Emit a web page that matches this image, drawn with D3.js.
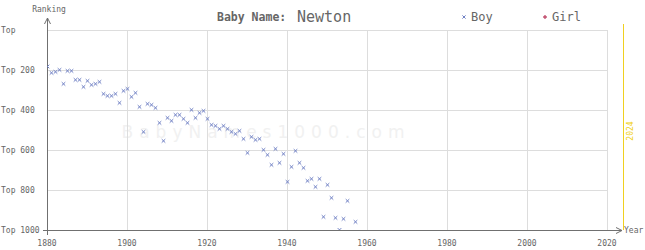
<!DOCTYPE html>
<html>
<head>
<meta charset="utf-8">
<script src="https://cdn.jsdelivr.net/npm/d3@7"></script>
<style>
  body { margin: 0; background: #fff; }
  text { font-family: "DejaVu Sans Mono", monospace; }
</style>
</head>
<body>
<div id="chart"></div>
<script>
// boy ranks (1956 missing)
let years = [1880, 1881, 1882, 1883, 1884, 1885, 1886, 1887, 1888, 1889,
    1890, 1891, 1892, 1893, 1894, 1895, 1896, 1897, 1898, 1899,
    1900, 1901, 1902, 1903, 1904, 1905, 1906, 1907, 1908, 1909,
    1910, 1911, 1912, 1913, 1914, 1915, 1916, 1917, 1918, 1919,
    1920, 1921, 1922, 1923, 1924, 1925, 1926, 1927, 1928, 1929,
    1930, 1931, 1932, 1933, 1934, 1935, 1936, 1937, 1938, 1939,
    1940, 1941, 1942, 1943, 1944, 1945, 1946, 1947, 1948, 1949,
    1950, 1951, 1952, 1953, 1954, 1955, 1957];

let boyRanks = [180, 212, 207, 197, 267, 202, 202, 247, 247, 282,
    252, 272, 267, 257, 317, 327, 327, 317, 362, 302,
    292, 332, 312, 382, 507, 367, 372, 387, 462, 552,
    437, 452, 422, 422, 442, 462, 397, 437, 412, 402,
    442, 472, 477, 492, 477, 492, 507, 517, 502, 542,
    612, 532, 547, 542, 597, 622, 672, 592, 662, 617,
    757, 682, 602, 662, 687, 752, 742, 782, 742, 932,
    772, 837, 937, 997, 942, 852, 957];

let xTicks = [1880, 1900, 1920, 1940, 1960, 1980, 2000, 2020];
let yTicks = [0, 200, 400, 600, 800, 1000];
let yTickLabels = ["Top", "Top 200", "Top 400", "Top 600", "Top 800", "Top 1000"];
let currentYear = 2024;

let W = 645, H = 250;
let margin = {top: 30, left: 47, right: 38, bottom: 20};

let svg = d3.select("#chart").append("svg")
    .attr("width", W)
    .attr("height", H);

let x = d3.scaleLinear().domain([1880, 2020]).range([margin.left, 607]);
let y = d3.scaleLinear().domain([0, 1000]).range([margin.top, 230]);

// watermark
svg.append("text")
    .attr("x", 266)
    .attr("y", 138)
    .attr("text-anchor", "middle")
    .attr("fill", "#f1f1f1")
    .style("font-size", "17px")
    .style("letter-spacing", "6px")
    .style("font-family", "DejaVu Sans, sans-serif")
    .text("BabyNames1000.com");

// grid
svg.append("g").selectAll("line")
    .data(yTicks.slice(0, -1))
    .enter().append("line")
    .attr("x1", margin.left).attr("x2", x(2020))
    .attr("y1", d => y(d) + 0.5).attr("y2", d => y(d) + 0.5)
    .attr("stroke", "#dddddd");

svg.append("g").selectAll("line")
    .data(xTicks.slice(1))
    .enter().append("line")
    .attr("x1", d => x(d) + 0.5).attr("x2", d => x(d) + 0.5)
    .attr("y1", margin.top).attr("y2", y(1000))
    .attr("stroke", "#dddddd");

// current year line
svg.append("line")
    .attr("x1", x(currentYear) + 0.5).attr("x2", x(currentYear) + 0.5)
    .attr("y1", 24).attr("y2", y(1000))
    .attr("stroke", "#f0d020");

svg.append("text")
    .attr("transform", "translate(" + (x(currentYear) + 10) + ",131) rotate(-90)")
    .attr("text-anchor", "middle")
    .attr("fill", "#f0d020")
    .style("font-size", "8px")
    .text(currentYear);

// axes
let axisColor = "#707070";
svg.append("line")
    .attr("x1", margin.left + 0.5).attr("x2", margin.left + 0.5)
    .attr("y1", 18).attr("y2", y(1000) + 5)
    .attr("stroke", axisColor);
svg.append("path")
    .attr("d", "M" + (margin.left - 2.5) + ",24 L" + (margin.left + 0.5) + ",18 L" + (margin.left + 3.5) + ",24")
    .attr("fill", "none")
    .attr("stroke", axisColor);

svg.append("line")
    .attr("x1", margin.left - 4).attr("x2", 622)
    .attr("y1", y(1000) + 0.5).attr("y2", y(1000) + 0.5)
    .attr("stroke", axisColor);
svg.append("path")
    .attr("d", "M616," + (y(1000) - 2.5) + " L622," + (y(1000) + 0.5) + " L616," + (y(1000) + 3.5))
    .attr("fill", "none")
    .attr("stroke", axisColor);

svg.append("text")
    .attr("x", 624).attr("y", y(1000) + 3)
    .attr("fill", "#666")
    .style("font-size", "8px")
    .text("Year");

svg.append("text")
    .attr("x", 49).attr("y", 12)
    .attr("text-anchor", "middle")
    .attr("fill", "#666")
    .style("font-size", "8px")
    .text("Ranking");

svg.append("g").selectAll("text")
    .data(yTicks)
    .enter().append("text")
    .attr("x", 1)
    .attr("y", d => y(d) + 3)
    .attr("fill", "#666")
    .style("font-size", "8px")
    .text((d, i) => yTickLabels[i]);

svg.append("g").selectAll("text")
    .data(xTicks)
    .enter().append("text")
    .attr("x", d => x(d))
    .attr("y", 246)
    .attr("text-anchor", "middle")
    .attr("fill", "#666")
    .style("font-size", "8px")
    .text(d => d);

// title + legend
svg.append("text")
    .attr("x", 217).attr("y", 21)
    .attr("fill", "#666")
    .style("font-size", "11.5px")
    .style("font-weight", "bold")
    .text("Baby Name:");
svg.append("text")
    .attr("x", 297).attr("y", 22)
    .attr("fill", "#666")
    .style("font-size", "15px")
    .text("Newton");

let boyColor = "#6f80c4", girlColor = "#c04a6a";
svg.append("path")
    .attr("transform", "translate(464,17)")
    .attr("d", d3.symbol(d3.symbolTimes, 8)())
    .attr("stroke", boyColor).attr("fill", "none");
svg.append("text")
    .attr("x", 471).attr("y", 21)
    .attr("fill", "#666")
    .style("font-size", "12px")
    .text("Boy");
svg.append("path")
    .attr("transform", "translate(545,17)")
    .attr("d", d3.symbol(d3.symbolCross, 8)())
    .attr("fill", girlColor);
svg.append("text")
    .attr("x", 552).attr("y", 21)
    .attr("fill", "#666")
    .style("font-size", "12px")
    .text("Girl");

// points
svg.append("defs").append("clipPath")
    .attr("id", "plot")
    .append("rect")
    .attr("x", margin.left).attr("y", margin.top - 5)
    .attr("width", x(2020) - margin.left).attr("height", y(1000) - margin.top + 5);

svg.append("g")
    .attr("clip-path", "url(#plot)")
    .selectAll("path")
    .data(years)
    .enter().append("path")
    .attr("transform", (d, i) => "translate(" + (x(d) + 0.5) + "," + (y(boyRanks[i]) + 0.5) + ")")
    .attr("d", d3.symbol(d3.symbolTimes, 10)())
    .attr("stroke", boyColor)
    .attr("stroke-width", 1)
    .attr("fill", "none");
</script>
</body>
</html>
